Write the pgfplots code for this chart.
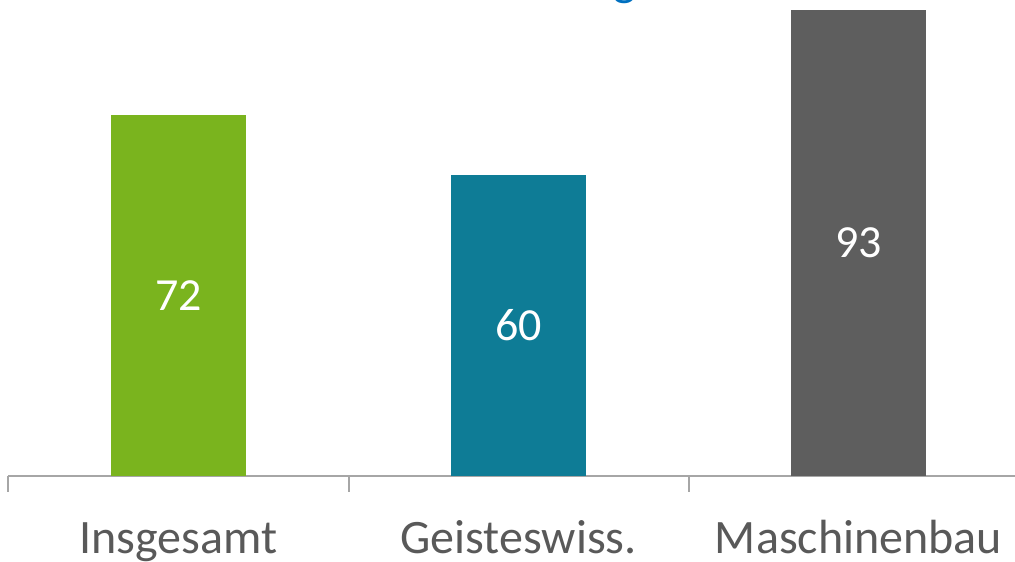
\documentclass[border=0pt]{standalone}
\usepackage{pgfplots}
\pgfplotsset{compat=1.18}
\usepackage{fontspec}
\setmainfont{Carlito}
\definecolor{barGreen}{RGB}{122,180,30}
\definecolor{barTeal}{RGB}{14,124,150}
\definecolor{barGrey}{RGB}{94,94,94}
\definecolor{axGrey}{RGB}{166,166,166}
\definecolor{lblGrey}{RGB}{89,89,89}
\definecolor{titleBlue}{RGB}{0,112,192}

\begin{document}
\begin{tikzpicture}
\begin{axis}[
  x=170pt, y=2.5075pt,
  xmin=-0.5, xmax=2.4603,
  ymin=0, ymax=94.915,
  axis x line*=bottom,
  axis y line=none,
  axis line style={axGrey, line width=1pt},
  xtick={0,1,2},
  xticklabels={},
  major tick length=0pt,
  minor xtick={-0.5,0.5,1.5},
  minor tick length=8pt,
  tick align=outside,
  minor tick style={axGrey, line width=1pt},
  ytick=\empty,
  ybar, bar width=67.5pt, bar shift=0pt,
  clip=false,
  /pgf/number format/assume math mode=true,
  visualization depends on={y \as \rawy},
  nodes near coords,
  nodes near coords style={font=\fontsize{23}{27}\selectfont, text=white,
    anchor=center, shift={(axis direction cs:0,-\rawy/2)}},
]
\addplot[fill=barGreen, draw=none] coordinates {(0,72)};
\addplot[fill=barTeal, draw=none] coordinates {(1,60)};
\addplot[fill=barGrey, draw=none] coordinates {(2,93)};

% category labels
\node[anchor=base, text=lblGrey, font=\fontsize{24}{29}\selectfont] at (axis cs:0,-15.55) {Insgesamt};
\node[anchor=base, text=lblGrey, font=\fontsize{24}{29}\selectfont] at (axis cs:1,-15.55) {Geisteswiss.};
\node[anchor=base, text=lblGrey, font=\fontsize{24}{29}\selectfont] at (axis cs:2,-15.55) {Maschinenbau};

% title, cut off at the top of the picture
\node[anchor=base, text=titleBlue, font=\fontsize{24}{29}\selectfont] at (axis cs:1.313,95.9) {g};

\coordinate (BL) at (axis cs:-0.525,-16.95);
\coordinate (TR) at (axis cs:2.4603,94.915);
\end{axis}
\pgfresetboundingbox
\path[use as bounding box] (BL) rectangle (TR);
\end{tikzpicture}
\end{document}
